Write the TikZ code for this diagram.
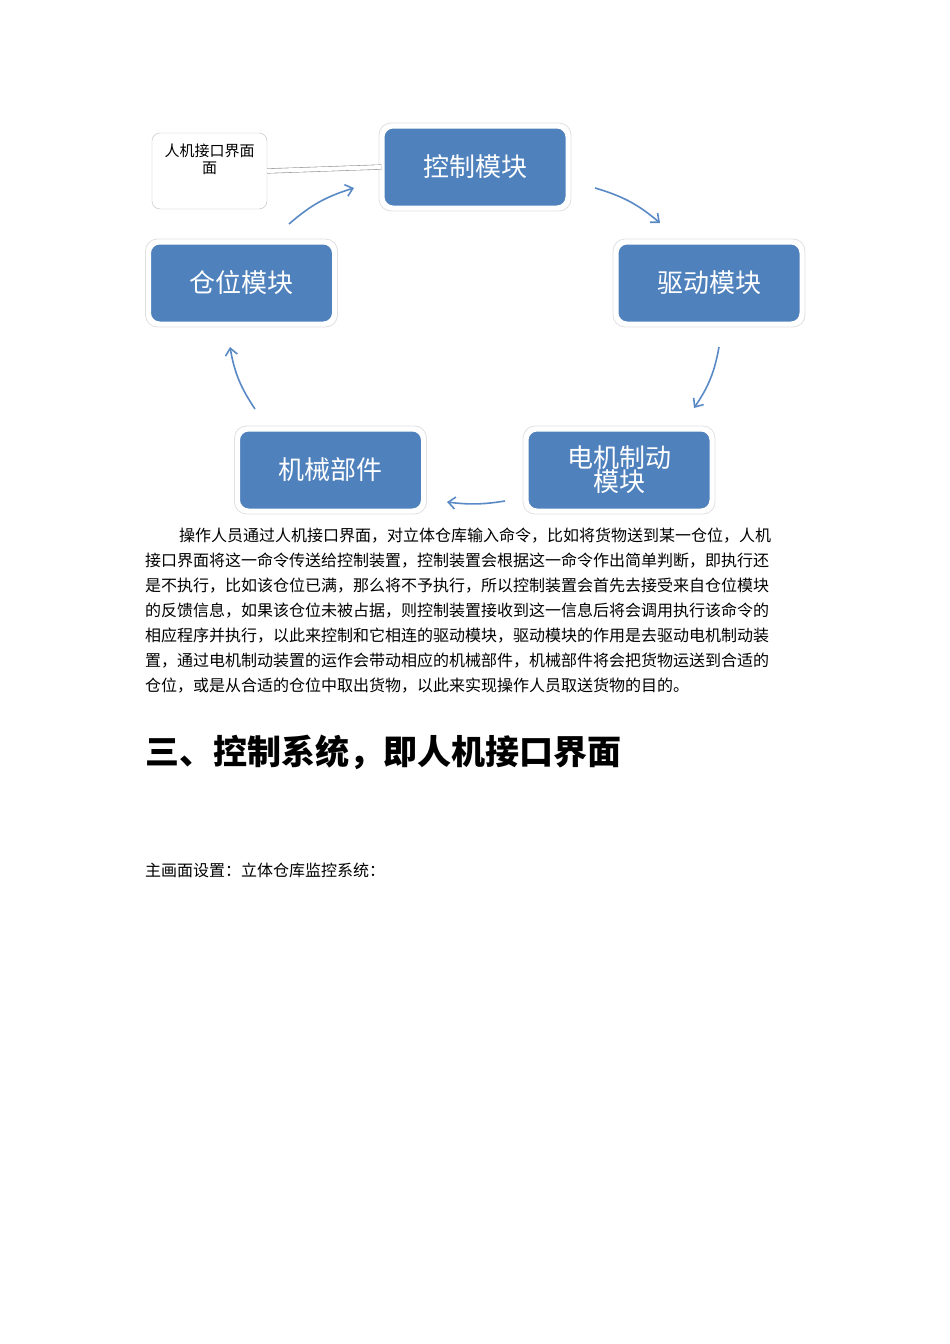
\documentclass[tikz,border=0pt]{standalone}
\usepackage{fontspec}
\setmainfont{Noto Sans CJK SC}
\usetikzlibrary{arrows.meta}
\definecolor{bx}{HTML}{4F81BD}
\definecolor{ar}{HTML}{5A8AC6}
\begin{document}
\begin{tikzpicture}[x=1pt,y=-1pt,
  mod/.style={draw=white,line width=3pt,fill=bx,rounded corners=10pt,text=white,
    minimum width=184pt,minimum height=80pt,font=\fontsize{26}{28}\selectfont,align=center},
  halo/.style={draw=black!12,line width=0.8pt,rounded corners=12pt},
  cyc/.style={draw=ar,line width=1.6pt,-{Straight Barb[length=7pt,width=12pt]}},
  body/.style={anchor=west,inner sep=0pt,font=\fontsize{16}{18}\selectfont}]
\useasboundingbox (0,0) rectangle (950,1344);
\fill[white] (0,0) rectangle (950,1344);
\node[draw=black!25,rounded corners=8pt,minimum width=115pt,minimum height=76pt,
  font=\fontsize{15}{17}\selectfont,align=center,text depth=24pt] (ui) at (209.5,171) {人机接口界面\\面};
\foreach \n/\x/\y/\t in {ctl/475/167/控制模块, drv/709/283/驱动模块, pos/241.5/283/仓位模块,
   mech/330.5/470/机械部件, motor/619/470/{电机制动\\[-4pt]模块}}{
  \draw[halo] (\x-96,\y-44) rectangle (\x+96,\y+44);
  \node[mod] (\n) at (\x,\y) {\t};
}
\draw[black!40,double=white,double distance=4pt,line width=0.6pt] (ui.east) -- (ctl.west);
\coordinate (a1) at (289,224); \coordinate (b1) at (354,188);
\coordinate (a2) at (595,188); \coordinate (b2) at (660,223);
\coordinate (a3) at (719,347); \coordinate (b3) at (694,408);
\coordinate (a4) at (505,501); \coordinate (b4) at (447,502);
\coordinate (a5) at (255,409); \coordinate (b5) at (230,347);
\draw[cyc] (a1) to[bend left=12] (b1);
\draw[cyc] (a2) to[bend left=12] (b2);
\draw[cyc] (a3) to[bend left=12] (b3);
\draw[cyc] (a4) to[bend left=8] (b4);
\draw[cyc] (a5) to[bend left=12] (b5);
\node[body] (l1) at (179,536) {操作人员通过人机接口界面，对立体仓库输入命令，比如将货物送到某一仓位，人机};
\node[body] (l2) at (145,561) {接口界面将这一命令传送给控制装置，控制装置会根据这一命令作出简单判断，即执行还};
\node[body] (l3) at (145,586) {是不执行，比如该仓位已满，那么将不予执行，所以控制装置会首先去接受来自仓位模块};
\node[body] (l4) at (145,611) {的反馈信息，如果该仓位未被占据，则控制装置接收到这一信息后将会调用执行该命令的};
\node[body] (l5) at (145,636) {相应程序并执行，以此来控制和它相连的驱动模块，驱动模块的作用是去驱动电机制动装};
\node[body] (l6) at (145,661) {置，通过电机制动装置的运作会带动相应的机械部件，机械部件将会把货物运送到合适的};
\node[body] (l7) at (145,686) {仓位，或是从合适的仓位中取出货物，以此来实现操作人员取送货物的目的。};
\node[anchor=west,inner sep=0pt,font=\fontsize{34}{36}\selectfont\bfseries] (h) at (145,752) {三、控制系统，即人机接口界面};
\node[anchor=west,inner sep=0pt,font=\fontsize{16}{18}\selectfont] (m) at (145,870) {主画面设置：立体仓库监控系统：};
\end{tikzpicture}
\end{document}
